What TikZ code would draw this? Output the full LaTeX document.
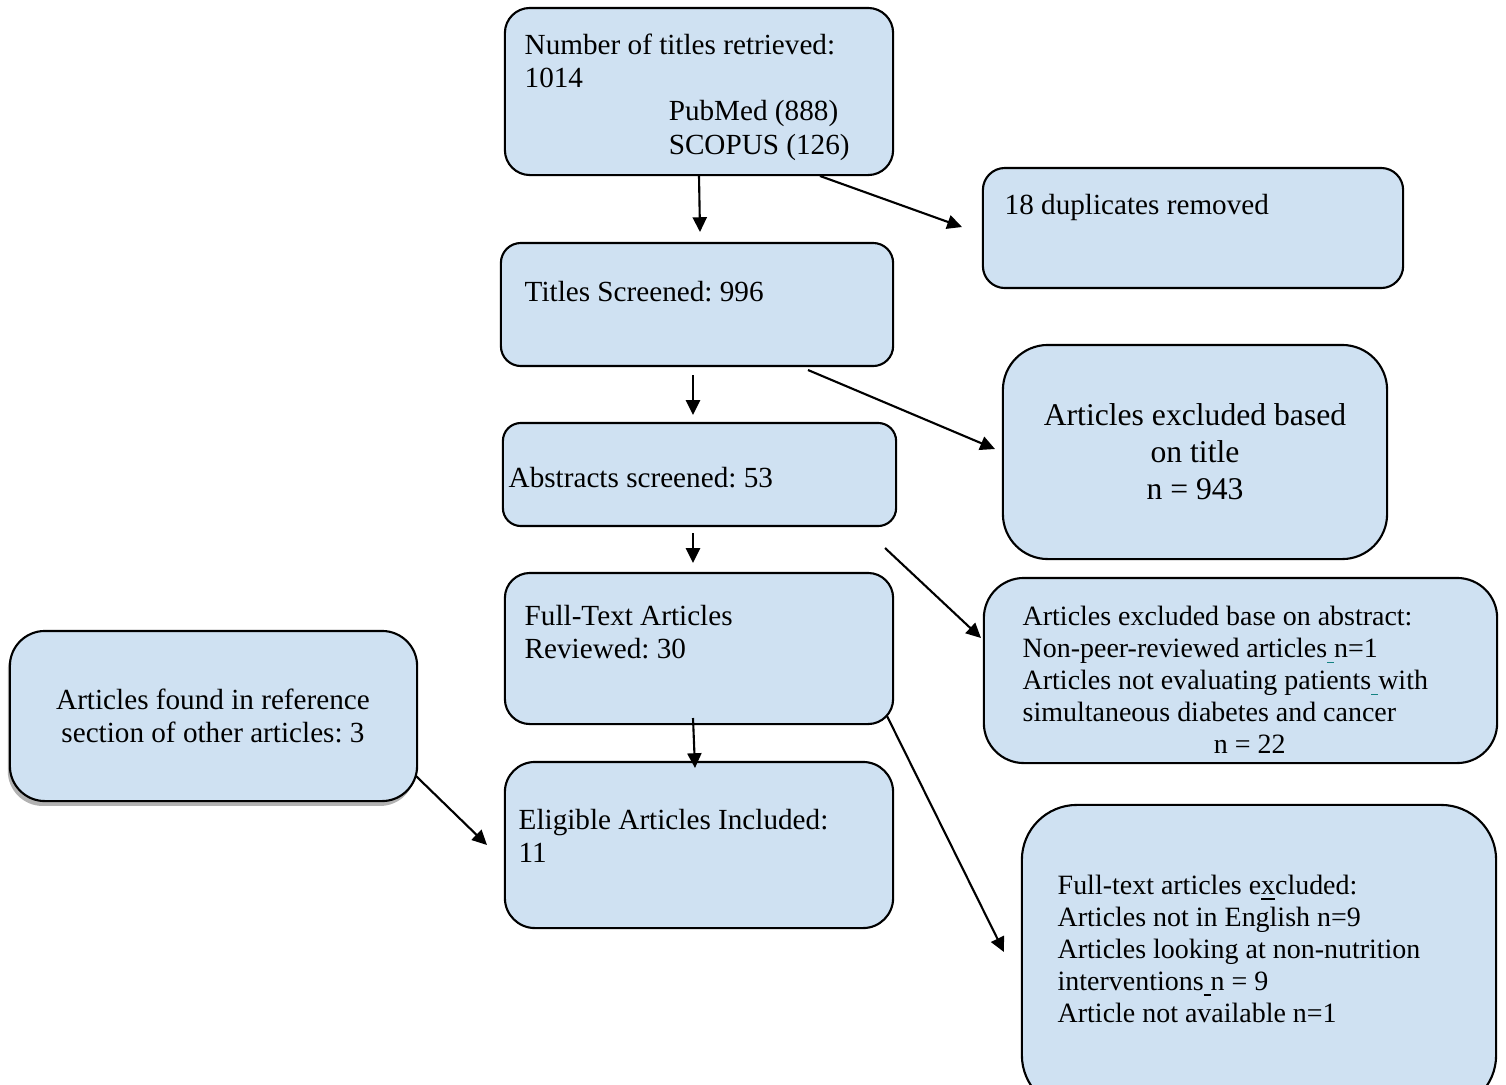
\documentclass[tikz,border=0pt]{standalone}
\usepackage{fontspec}
\setmainfont{Liberation Serif}
\usetikzlibrary{arrows.meta,shadows}
\definecolor{boxblue}{RGB}{207,225,242}
\definecolor{ulteal}{RGB}{20,130,130}
\newcommand{\ulsp}{\textcolor{ulteal}{\underline{\ }}}
\frenchspacing
\begin{document}
\begin{tikzpicture}[
        x=0.01cm, y=-0.01cm,
        box/.style={rectangle, rounded corners=0.25cm, draw=black, line width=0.6pt, fill=boxblue, inner sep=0pt},
        txt/.style={font=\fontsize{8.3}{9.4}\selectfont, align=left, anchor=west, inner sep=0pt},
        smalltxt/.style={txt, font=\fontsize{7.95}{9.1}\selectfont},
        bigtxt/.style={font=\fontsize{9}{10.5}\selectfont, align=center, inner sep=0pt},
        arrow/.style={-{Triangle[length=4.2pt,width=4pt]}, line width=0.6pt}
    ]
    \useasboundingbox (0,0) rectangle (1506,1084);

    % main column
    \node[box, minimum width=3.88cm, minimum height=1.67cm] (ret) at (699,91.5) {};
    \node[txt, font=\fontsize{8.3}{9.5}\selectfont] (ret-t) at (524,97) {Number of titles retrieved:\\1014\\\hspace*{1.44cm}PubMed (888)\\\hspace*{1.44cm}SCOPUS (126)};
    \node[box, minimum width=3.92cm, minimum height=1.23cm, rounded corners=0.2cm] (ttl) at (697,304.5) {};
    \node[txt] (ttl-t) at (524,292) {Titles Screened: 996};
    \node[box, minimum width=3.93cm, minimum height=1.03cm, rounded corners=0.18cm] (abs) at (699.5,474.5) {};
    \node[txt] (abs-t) at (508,478) {Abstracts screened: 53};
    \node[box, minimum width=3.88cm, minimum height=1.51cm] (full) at (699,648.5) {};
    \node[txt] (full-t) at (524,632.5) {Full-Text Articles\\Reviewed: 30};
    \node[box, minimum width=3.88cm, minimum height=1.66cm, rounded corners=0.3cm] (elig) at (699,845) {};
    \node[txt] (elig-t) at (518,835.5) {Eligible Articles Included:\\11};

    % exclusions on the right
    \node[box, minimum width=4.2cm, minimum height=1.2cm, rounded corners=0.22cm] (dup) at (1193,228) {};
    \node[txt] (dup-t) at (1004,207) {18 duplicates removed};
    \node[box, minimum width=3.84cm, minimum height=2.14cm, rounded corners=0.45cm] (exttl) at (1195,452) {};
    \node[bigtxt] (exttl-t) at (1195,451.5) {Articles excluded based\\on title\\n = 943};
    \node[box, minimum width=5.13cm, minimum height=1.85cm, rounded corners=0.4cm] (exabs) at (1240.5,670.5) {};
    \node[smalltxt] (exabs-t) at (1022,680) {Articles excluded base on abstract:\\Non-peer-reviewed articles\ulsp n=1\\Articles not evaluating patients\ulsp with\\simultaneous diabetes and cancer\\\hspace*{1.91cm}n = 22};
    \node[box, minimum width=4.74cm, minimum height=3.05cm, rounded corners=0.55cm] (exfull) at (1259,957.5) {};
    \node[smalltxt] (exfull-t) at (1057,948.5) {Full-text articles e\underline{x}cluded:\\Articles not in English n=9\\Articles looking at non-nutrition\\interventions\underline{\ }n = 9\\Article not available n=1};

    % extra articles on the left
    \node[box, minimum width=4.07cm, minimum height=1.7cm, rounded corners=0.35cm,
          drop shadow={shadow xshift=-0.6pt, shadow yshift=-1.4pt, fill=black, opacity=0.3}] (refs) at (213.5,716) {};
    \node[txt, align=center, anchor=center] (refs-t) at (213,715.5) {Articles found in reference\\section of other articles: 3};

    % arrow ends
    \coordinate (e1) at (700,232);
    \coordinate (s2) at (820,176);
    \coordinate (e2) at (962,227);
    \coordinate (s3) at (693,375);
    \coordinate (e3) at (693,415);
    \coordinate (s4) at (808,370);
    \coordinate (e4) at (995,449);
    \coordinate (s5) at (693,533);
    \coordinate (e5) at (693,563);
    \coordinate (s6) at (885,548);
    \coordinate (e6) at (981,638);
    \coordinate (s7) at (693,718);
    \coordinate (e7) at (695,768);
    \coordinate (s8) at (887,716);
    \coordinate (e8) at (1004,952);
    \coordinate (s9) at (416,776);
    \coordinate (e9) at (487,845);

    \draw[arrow] (ret.south) -- (e1);
    \draw[arrow] (s2) -- (e2);
    \draw[arrow] (s3) -- (e3);
    \draw[arrow] (s4) -- (e4);
    \draw[arrow] (s5) -- (e5);
    \draw[arrow] (s6) -- (e6);
    \draw[arrow] (s7) -- (e7);
    \draw[arrow] (s8) -- (e8);
    \draw[arrow] (s9) -- (e9);

\end{tikzpicture}
\end{document}
